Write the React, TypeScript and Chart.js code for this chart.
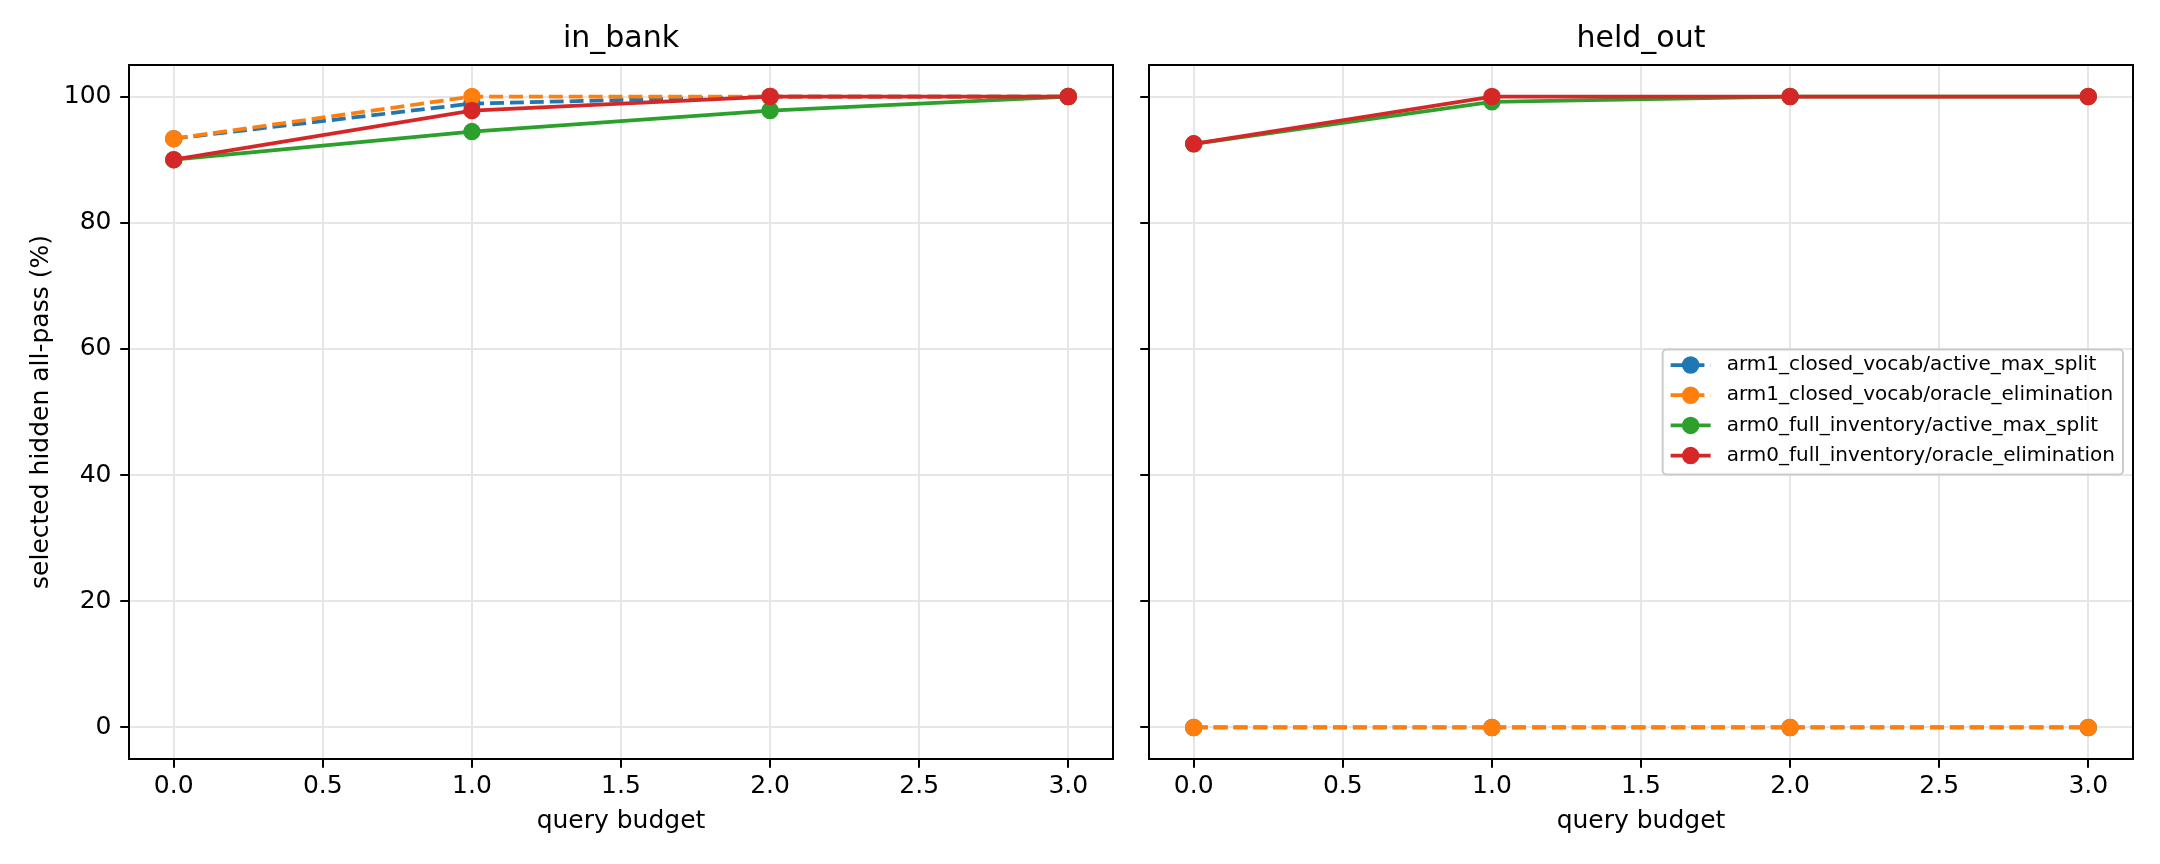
import { useEffect, useRef } from 'react'
import Chart from 'chart.js/auto'
import type { Plugin, Scale } from 'chart.js'

const FONT = "'DejaVu Sans', 'Liberation Sans', sans-serif"

const budgets = [0, 1, 2, 3]
const xTicks = [0, 0.5, 1, 1.5, 2, 2.5, 3]
const yTicks = [0, 20, 40, 60, 80, 100]

const seriesLabels = [
  'arm1_closed_vocab/active_max_split',
  'arm1_closed_vocab/oracle_elimination',
  'arm0_full_inventory/active_max_split',
  'arm0_full_inventory/oracle_elimination',
]
const seriesColors = ['#1f77b4', '#ff7f0e', '#2ca02c', '#d62728']
const seriesDashed = [true, true, false, false]

// in_bank panel
const inBankClosedActive = [93.33, 98.89, 100, 100]
const inBankClosedOracle = [93.33, 100, 100, 100]
const inBankFullActive = [90, 94.44, 97.78, 100]
const inBankFullOracle = [90, 97.78, 100, 100]

// held_out panel
const heldOutClosedActive = [0, 0, 0, 0]
const heldOutClosedOracle = [0, 0, 0, 0]
const heldOutFullActive = [92.5, 99.17, 100, 100]
const heldOutFullOracle = [92.5, 100, 100, 100]

const DASH = [13.9, 6]

// full box around the plot area, like matplotlib spines
const framePlugin: Plugin = {
  id: 'frame',
  afterDatasetsDraw(chart) {
    const { ctx, chartArea: a } = chart
    ctx.save()
    ctx.strokeStyle = '#000'
    ctx.lineWidth = 2
    ctx.strokeRect(a.left, a.top, a.right - a.left, a.bottom - a.top)
    ctx.restore()
  },
}

// legend drawn inside the plot area, centred on the right side
const insideLegendPlugin: Plugin = {
  id: 'insideLegend',
  afterDraw(chart) {
    const { ctx, chartArea: a } = chart
    ctx.save()
    ctx.font = `20px ${FONT}`
    const textW = Math.max(...seriesLabels.map((l) => ctx.measureText(l).width))
    const pad = 8
    const handle = 40
    const gap = 16
    const rowStep = 30.2
    const w = pad + handle + gap + textW + pad
    const h = 125
    const right = a.right - 10
    const left = right - w
    const top = (a.top + a.bottom) / 2 - h / 2

    ctx.beginPath()
    ctx.roundRect(left, top, w, h, 4)
    ctx.fillStyle = 'rgba(255,255,255,0.8)'
    ctx.fill()
    ctx.strokeStyle = '#cccccc'
    ctx.lineWidth = 2
    ctx.stroke()

    seriesLabels.forEach((label, i) => {
      const y = top + 15.5 + i * rowStep
      const x0 = left + pad
      ctx.strokeStyle = seriesColors[i]
      ctx.lineWidth = 3.75
      ctx.setLineDash(seriesDashed[i] ? DASH : [])
      ctx.beginPath()
      ctx.moveTo(x0, y)
      ctx.lineTo(x0 + handle, y)
      ctx.stroke()
      ctx.setLineDash([])
      ctx.beginPath()
      ctx.arc(x0 + handle / 2, y, 7.5, 0, Math.PI * 2)
      ctx.fillStyle = seriesColors[i]
      ctx.fill()
      ctx.lineWidth = 2.5
      ctx.stroke()
      ctx.fillStyle = '#000'
      ctx.textAlign = 'left'
      ctx.textBaseline = 'middle'
      ctx.fillText(label, x0 + handle + gap, y)
    })
    ctx.restore()
  },
}

interface PanelProps {
  title: string
  series: number[][]
  left: number
  width: number
  yAxisWidth: number
  padRight: number
  showYLabels: boolean
  showLegend: boolean
}

function Panel({ title, series, left, width, yAxisWidth, padRight, showYLabels, showLegend }: PanelProps) {
  const canvasRef = useRef<HTMLCanvasElement>(null)

  useEffect(() => {
    if (!canvasRef.current) return
    Chart.defaults.font.family = FONT
    Chart.defaults.color = '#000'

    const gridOpts = {
      color: '#e6e6e6',
      lineWidth: 2,
      tickColor: '#000',
      tickWidth: 2,
      tickLength: 8.75,
    }

    const chart = new Chart(canvasRef.current, {
      type: 'line',
      data: {
        datasets: series.map((vals, i) => ({
          label: seriesLabels[i],
          data: budgets.map((x, j) => ({ x, y: vals[j] })),
          borderColor: seriesColors[i],
          backgroundColor: seriesColors[i],
          borderWidth: 3.75,
          borderDash: seriesDashed[i] ? DASH : [],
          pointRadius: 7.5,
          pointHoverRadius: 7.5,
          pointBorderWidth: 2.5,
          pointBackgroundColor: seriesColors[i],
          pointBorderColor: seriesColors[i],
          tension: 0,
          fill: false,
          order: series.length - i, // later series drawn on top
        })),
      },
      options: {
        animation: false,
        responsive: false,
        devicePixelRatio: 1,
        events: [],
        layout: { padding: { left: 0, right: padRight, top: 0, bottom: 0 } },
        plugins: {
          legend: { display: false },
          tooltip: { enabled: false },
          title: {
            display: true,
            text: title,
            fullSize: false,
            color: '#000',
            font: { family: FONT, size: 30, weight: 'normal' },
            padding: { top: 21.6, bottom: 7.4 },
          },
        },
        scales: {
          x: {
            type: 'linear',
            min: -0.15,
            max: 3.15,
            afterBuildTicks: (s: Scale) => {
              s.ticks = xTicks.map((value) => ({ value }))
            },
            afterFit: (s: Scale) => {
              s.height = 105
            },
            grid: gridOpts,
            border: { display: false },
            ticks: {
              color: '#000',
              font: { family: FONT, size: 25 },
              padding: 4,
              maxRotation: 0,
              autoSkip: false,
              callback: (v) => Number(v).toFixed(1),
            },
            title: {
              display: true,
              text: 'query budget',
              color: '#000',
              font: { family: FONT, size: 25 },
              padding: { top: 0, bottom: 27.65 },
            },
          },
          y: {
            type: 'linear',
            min: -5,
            max: 105,
            afterBuildTicks: (s: Scale) => {
              s.ticks = yTicks.map((value) => ({ value }))
            },
            afterFit: (s: Scale) => {
              s.width = yAxisWidth
            },
            grid: gridOpts,
            border: { display: false },
            ticks: {
              color: '#000',
              font: { family: FONT, size: 25 },
              padding: 8.75,
              callback: (v) => (showYLabels ? String(v) : ''),
            },
            title: {
              display: showYLabels,
              text: 'selected hidden all-pass (%)',
              color: '#000',
              font: { family: FONT, size: 25 },
              padding: { top: 26.35, bottom: 0 },
            },
          },
        },
      },
      plugins: showLegend ? [framePlugin, insideLegendPlugin] : [framePlugin],
    })

    return () => {
      chart.destroy()
    }
  }, [title, series, yAxisWidth, padRight, showYLabels, showLegend])

  return (
    <div style={{ position: 'absolute', left, top: 0, width, height: 864 }}>
      <canvas ref={canvasRef} width={width} height={864} style={{ display: 'block' }}></canvas>
    </div>
  )
}

const inBankSeries = [inBankClosedActive, inBankClosedOracle, inBankFullActive, inBankFullOracle]
const heldOutSeries = [heldOutClosedActive, heldOutClosedOracle, heldOutFullActive, heldOutFullOracle]

export default function App() {
  return (
    <div style={{ position: 'absolute', left: 0, top: 0, width: 2160, height: 864, background: '#fff', overflow: 'hidden' }}>
      <Panel
        title="in_bank"
        series={inBankSeries}
        left={0}
        width={1131}
        yAxisWidth={129}
        padRight={18}
        showYLabels={true}
        showLegend={false}
      />
      <Panel
        title="held_out"
        series={heldOutSeries}
        left={1131}
        width={1029}
        yAxisWidth={18}
        padRight={27}
        showYLabels={false}
        showLegend={true}
      />
    </div>
  )
}
